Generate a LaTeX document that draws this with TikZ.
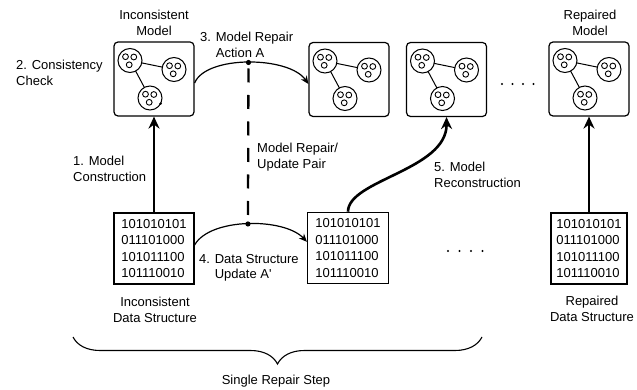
\documentclass[tikz,border=0pt]{standalone}
\usepackage{fontspec}
\setmainfont{Liberation Sans}
\usetikzlibrary{arrows.meta,calc,decorations.pathreplacing}
\tikzset{
  modelbox/.style={draw, line width=1.2pt, rounded corners=4pt, minimum width=80pt, minimum height=74pt, inner sep=0pt},
  databox/.style={draw, line width=1.2pt, minimum height=71pt, inner sep=0pt, align=left, font=\fontsize{13}{16.5}\selectfont},
  lbl/.style={inner sep=0pt, font=\fontsize{13}{15.5}\selectfont},
  boldarrow/.style={line width=2.6pt, -{Stealth[length=12pt,width=11pt,inset=4pt]}},
  thinarrow/.style={line width=1.2pt, -{Stealth[length=8pt,width=7pt,inset=2.5pt]}},
  modelpic/.pic={
    \foreach \cx/\cy in {-24/-18.5, 20/-9.5, -4/19}{
      \draw[line width=1pt] (\cx,\cy) circle[radius=12pt];
      \draw[line width=0.9pt] (\cx-4.5,\cy-3.8) circle[radius=2.9pt];
      \draw[line width=0.9pt] (\cx+3.8,\cy-3.5) circle[radius=2.9pt];
      \draw[line width=0.9pt] (\cx-0.8,\cy+4.3) circle[radius=2.9pt];
    }
    \draw[line width=1pt, shorten <=12pt, shorten >=12pt] (-24,-18.5) -- (20,-9.5);
    \draw[line width=1pt, shorten <=12pt, shorten >=12pt] (-24,-18.5) -- (-4,19);
  }
}
\begin{document}
\begin{tikzpicture}[x=1pt,y=-1pt]
\useasboundingbox (0,0) rectangle (637,390);

% model boxes
\node[modelbox] (M1) at (154,79) {};
\node[modelbox] (M2) at (349,79.5) {};
\node[modelbox] (M3) at (446.5,79.5) {};
\node[modelbox] (M4) at (589,79) {};
\pic at (M1) {modelpic};
\pic at (M2) {modelpic};
\pic at (M3) {modelpic};
\pic at (M4) {modelpic};
\fill ($(M1)+(6.6,24.6)$) circle[radius=1.4pt];

% data boxes
\node[databox, minimum width=80pt] (D1) at (154,248.5) {101010101\\011101000\\101011100\\101110010};
\node[databox, minimum width=81pt] (D2) at (348,247.8) {101010101\\011101000\\101011100\\101110010};
\node[databox, minimum width=76pt] (D3) at (589,248.5) {101010101\\011101000\\101011100\\101110010};

% labels
\node[lbl, align=center, anchor=north] (tim) at (154,10) {Inconsistent\\Model};
\node[lbl, align=center, anchor=north] (trm) at (590,10) {Repaired\\Model};
\node[lbl, align=left, anchor=north west] (tcc) at (16,60) {2. Consistency\\Check};
\node[lbl, align=left, anchor=north west] (tmr) at (200,32) {3. Model Repair\\\phantom{3. }Action A};
\node[lbl, align=left, anchor=north west] (tmc) at (73,156) {1. Model\\Construction};
\node[lbl, align=left, anchor=north west] (tup) at (257,143) {Model Repair/\\Update Pair};
\node[lbl, align=left, anchor=north west] (trc) at (434,162) {5. Model\\Reconstruction};
\node[lbl, align=left, anchor=north west] (tds) at (199,254) {4. Data Structure\\\phantom{4. }Update A\textquotesingle};
\node[lbl, align=center, anchor=north] (tid) at (155,297) {Inconsistent\\Data Structure};
\node[lbl, align=center, anchor=north] (trd) at (592,296) {Repaired\\Data Structure};
\node[lbl] (srs) at (276,381) {Single Repair Step};

% thick arrows
\draw[boldarrow] (D1) -- (M1);
\draw[boldarrow] (D3) -- (M4);
\draw[boldarrow] (D2.north) .. controls (348,180) and (447,170) .. (M3.south);

% repair arcs
\draw[thinarrow] ($(M1.east)+(0,4)$) .. controls (206,55) and (289,56) .. ($(M2.west)+(0,4.5)$) coordinate[pos=0.5] (pa);
\draw[thinarrow] ($(D1.east)+(0,-3.5)$) .. controls (210,217.5) and (284,217.5) .. ($(D2.west)+(0,-6)$) coordinate[pos=0.5] (pb);
\draw[line width=2.3pt, dash pattern=on 14pt off 12.5pt, dash phase=20.5pt] (pa) -- (pb);
\fill (pa) circle[radius=2.6pt];
\fill (pb) circle[radius=2.6pt];

% continuation dots
\foreach \x in {502,512.5,523,533.5} \fill (\x,84) circle[radius=1.1pt];
\foreach \x in {448,459.5,471,482.5} \fill (\x,251) circle[radius=1.1pt];

% brace
\draw[line width=1.1pt, decorate, decoration={brace, mirror, amplitude=27pt}] (73,337) coordinate (bl) -- (482,337) coordinate (br);
\end{tikzpicture}
\end{document}
